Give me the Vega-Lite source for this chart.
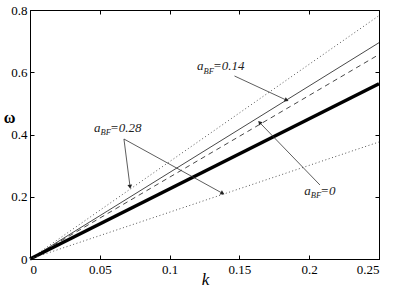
{
  "$schema": "https://vega.github.io/schema/vega-lite/v6.json",
  "width": 349,
  "height": 249,
  "autosize": {"type": "none"},
  "padding": {"left": 30, "top": 10, "right": 16, "bottom": 32},
  "background": "white",
  "config": {
    "view": {"stroke": "black", "strokeWidth": 1},
    "axis": {
      "grid": false,
      "labelFont": "Liberation Serif, Times New Roman, DejaVu Serif, serif",
      "labelFontSize": 13,
      "labelColor": "black",
      "tickColor": "black",
      "domainColor": "black",
      "tickSize": -4,
      "titleFont": "Liberation Serif, Times New Roman, DejaVu Serif, serif",
      "titleColor": "black"
    }
  },
  "datasets": {
    "curves": [
      {"series": "up", "k": 0, "w": 0},
      {"series": "up", "k": 0.25, "w": 0.782},
      {"series": "thin", "k": 0, "w": 0},
      {"series": "thin", "k": 0.25, "w": 0.695},
      {"series": "dash", "k": 0, "w": 0},
      {"series": "dash", "k": 0.25, "w": 0.657},
      {"series": "thick", "k": 0, "w": 0},
      {"series": "thick", "k": 0.25, "w": 0.563},
      {"series": "low", "k": 0, "w": 0},
      {"series": "low", "k": 0.25, "w": 0.376}
    ],
    "arrows": [
      {"id": "a014", "k0": 0.1465, "w0": 0.588, "k1": 0.1834, "w1": 0.511},
      {"id": "a028a", "k0": 0.0673, "w0": 0.3855, "k1": 0.0716, "w1": 0.2345},
      {"id": "a028b", "k0": 0.0673, "w0": 0.3855, "k1": 0.1375, "w1": 0.212},
      {"id": "a0", "k0": 0.2077, "w0": 0.2378, "k1": 0.1648, "w1": 0.437}
    ],
    "labels": [
      {"k": 0.1196, "w": 0.607, "val": "=0.14"},
      {"k": 0.0458, "w": 0.409, "val": "=0.28"},
      {"k": 0.1965, "w": 0.2066, "val": "=0"}
    ]
  },
  "resolve": {"axis": {"x": "independent", "y": "independent"}},
  "layer": [
    {
      "data": {"name": "curves"},
      "transform": [{"filter": "datum.series == 'up'"}],
      "mark": {"type": "line", "color": "#555", "strokeWidth": 1, "strokeDash": [1, 2.5]},
      "encoding": {
        "x": {"field": "k", "type": "quantitative", "scale": {"domain": [0, 0.25], "nice": false},
          "axis": {"orient": "bottom", "values": [0, 0.05, 0.1, 0.15, 0.2, 0.25], "format": "~g", "labelPadding": 8,
            "title": "k", "titleFontStyle": "italic", "titleFontWeight": "normal", "titleFontSize": 17, "titleX": 175, "titleY": 25, "titleAlign": "center", "titleBaseline": "alphabetic"}},
        "y": {"field": "w", "type": "quantitative", "scale": {"domain": [0, 0.8], "nice": false},
          "axis": {"orient": "left", "values": [0, 0.2, 0.4, 0.6, 0.8], "format": "~g", "labelPadding": 7,
            "title": "ω", "titleAngle": 0, "titleFontWeight": "bold", "titleFontSize": 16, "titleX": -21, "titleY": 112, "titleAlign": "center", "titleBaseline": "alphabetic"}}
      }
    },
    {
      "data": {"name": "curves"},
      "transform": [{"filter": "datum.series == 'thin'"}],
      "mark": {"type": "line", "color": "#333", "strokeWidth": 0.9},
      "encoding": {
        "x": {"field": "k", "type": "quantitative",
          "axis": {"orient": "top", "values": [0, 0.05, 0.1, 0.15, 0.2, 0.25], "labels": false, "domain": false, "title": null}},
        "y": {"field": "w", "type": "quantitative",
          "axis": {"orient": "right", "values": [0, 0.2, 0.4, 0.6, 0.8], "labels": false, "domain": false, "title": null}}
      }
    },
    {
      "data": {"name": "curves"},
      "transform": [{"filter": "datum.series == 'dash'"}],
      "mark": {"type": "line", "color": "#333", "strokeWidth": 0.9, "strokeDash": [5, 4]},
      "encoding": {
        "x": {"field": "k", "type": "quantitative", "axis": null},
        "y": {"field": "w", "type": "quantitative", "axis": null}
      }
    },
    {
      "data": {"name": "curves"},
      "transform": [{"filter": "datum.series == 'thick'"}],
      "mark": {"type": "line", "color": "black", "strokeWidth": 3.5},
      "encoding": {
        "x": {"field": "k", "type": "quantitative", "axis": null},
        "y": {"field": "w", "type": "quantitative", "axis": null}
      }
    },
    {
      "data": {"name": "curves"},
      "transform": [{"filter": "datum.series == 'low'"}],
      "mark": {"type": "line", "color": "#555", "strokeWidth": 1, "strokeDash": [1, 2.5]},
      "encoding": {
        "x": {"field": "k", "type": "quantitative", "axis": null},
        "y": {"field": "w", "type": "quantitative", "axis": null}
      }
    },
    {
      "data": {"name": "arrows"},
      "mark": {"type": "rule", "color": "#333", "strokeWidth": 0.8},
      "encoding": {
        "x": {"field": "k0", "type": "quantitative", "axis": null},
        "y": {"field": "w0", "type": "quantitative", "axis": null},
        "x2": {"field": "k1"},
        "y2": {"field": "w1"}
      }
    },
    {
      "data": {"name": "arrows"},
      "transform": [{"filter": "datum.id == 'a014'"}],
      "mark": {"type": "point", "shape": "triangle", "filled": true, "color": "#222", "size": 22, "angle": 114, "opacity": 1},
      "encoding": {
        "x": {"field": "k1", "type": "quantitative", "axis": null},
        "y": {"field": "w1", "type": "quantitative", "axis": null}
      }
    },
    {
      "data": {"name": "arrows"},
      "transform": [{"filter": "datum.id == 'a028a'"}],
      "mark": {"type": "point", "shape": "triangle", "filled": true, "color": "#222", "size": 22, "angle": 173, "opacity": 1},
      "encoding": {
        "x": {"field": "k1", "type": "quantitative", "axis": null},
        "y": {"field": "w1", "type": "quantitative", "axis": null}
      }
    },
    {
      "data": {"name": "arrows"},
      "transform": [{"filter": "datum.id == 'a028b'"}],
      "mark": {"type": "point", "shape": "triangle", "filled": true, "color": "#222", "size": 22, "angle": 119, "opacity": 1},
      "encoding": {
        "x": {"field": "k1", "type": "quantitative", "axis": null},
        "y": {"field": "w1", "type": "quantitative", "axis": null}
      }
    },
    {
      "data": {"name": "arrows"},
      "transform": [{"filter": "datum.id == 'a0'"}],
      "mark": {"type": "point", "shape": "triangle", "filled": true, "color": "#222", "size": 22, "angle": -44, "opacity": 1},
      "encoding": {
        "x": {"field": "k1", "type": "quantitative", "axis": null},
        "y": {"field": "w1", "type": "quantitative", "axis": null}
      }
    },
    {
      "data": {"name": "labels"},
      "mark": {"type": "text", "align": "left", "baseline": "alphabetic", "font": "Liberation Serif, Times New Roman, DejaVu Serif, serif", "fontStyle": "italic", "fontSize": 13, "color": "#222"},
      "encoding": {
        "x": {"field": "k", "type": "quantitative", "axis": null},
        "y": {"field": "w", "type": "quantitative", "axis": null},
        "text": {"value": "a"}
      }
    },
    {
      "data": {"name": "labels"},
      "mark": {"type": "text", "align": "left", "baseline": "alphabetic", "font": "Liberation Serif, Times New Roman, DejaVu Serif, serif", "fontStyle": "italic", "fontSize": 8.5, "dx": 6.5, "dy": 3.5, "color": "#222"},
      "encoding": {
        "x": {"field": "k", "type": "quantitative", "axis": null},
        "y": {"field": "w", "type": "quantitative", "axis": null},
        "text": {"value": "BF"}
      }
    },
    {
      "data": {"name": "labels"},
      "mark": {"type": "text", "align": "left", "baseline": "alphabetic", "font": "Liberation Serif, Times New Roman, DejaVu Serif, serif", "fontStyle": "italic", "fontSize": 13, "dx": 16, "color": "#222"},
      "encoding": {
        "x": {"field": "k", "type": "quantitative", "axis": null},
        "y": {"field": "w", "type": "quantitative", "axis": null},
        "text": {"field": "val"}
      }
    }
  ]
}
